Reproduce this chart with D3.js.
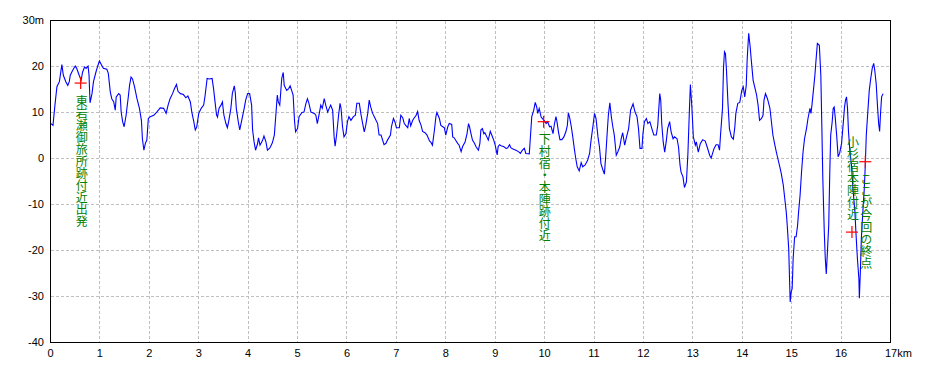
<!DOCTYPE html>
<html><head><meta charset="utf-8">
<script src="https://cdn.jsdelivr.net/npm/d3@7"></script>
<style>
html,body{margin:0;padding:0;background:#fff;}
svg{display:block;}
</style></head>
<body>
<svg id="c" width="930" height="372"></svg>
<script>
// distance (km) along route
const km = [0.01,0.05,0.09,0.13,0.18,0.23,0.26,0.31,0.35,0.38,0.40,0.45,0.50,0.53,0.58,0.62,0.65,0.69,0.72,0.76,0.78,0.80,0.84,0.87,0.92,0.95,0.99,1.03,1.07,1.14,1.17,1.21,1.24,1.28,1.31,1.33,1.38,1.41,1.43,1.46,1.49,1.53,1.57,1.60,1.63,1.66,1.70,1.75,1.80,1.84,1.86,1.89,1.92,1.95,1.98,2.02,2.09,2.15,2.22,2.29,2.34,2.38,2.42,2.47,2.51,2.55,2.58,2.63,2.69,2.74,2.78,2.83,2.86,2.90,2.93,2.96,3.00,3.05,3.10,3.13,3.17,3.21,3.27,3.30,3.33,
3.36,3.38,3.41,3.45,3.48,3.49,3.51,3.55,3.58,3.61,3.65,3.68,3.72,3.74,3.76,3.80,3.83,3.87,3.92,3.95,3.99,4.03,4.07,4.09,4.12,4.15,4.19,4.21,4.24,4.29,4.32,4.36,4.39,4.44,4.49,4.53,4.56,4.59,4.61,4.64,4.66,4.68,4.71,4.73,4.78,4.82,4.85,4.88,4.91,4.94,4.96,5.00,5.03,5.09,5.13,5.17,5.20,5.23,5.27,5.34,5.37,5.40,5.44,5.47,5.50,5.54,5.57,5.61,5.64,5.67,5.71,5.74,5.76,5.79,5.83,5.86,5.88,5.91,5.94,5.98,6.01,6.04,6.08,6.13,6.17,6.20,6.25,6.28,6.31,6.35,6.38,6.42,6.45,6.48,6.52,6.57,6.62,6.65,6.69,
6.75,6.79,6.82,6.88,6.90,6.94,6.97,7.00,7.06,7.09,7.13,7.16,7.19,7.23,7.26,7.29,7.33,7.36,7.40,7.43,7.46,7.50,7.53,7.58,7.62,7.67,7.70,7.73,7.77,7.80,7.82,7.87,7.90,7.94,7.97,8.00,8.04,8.07,8.12,8.14,8.17,8.21,8.24,8.27,8.31,8.34,8.39,8.43,8.46,8.48,8.51,8.54,8.58,8.61,8.66,8.69,8.71,8.74,8.77,8.79,8.83,8.86,8.90,8.93,8.97,9.00,9.04,9.06,9.09,9.13,9.17,9.22,9.25,9.29,9.32,9.37,9.42,9.47,9.51,9.55,9.59,9.62,9.69,9.71,9.74,9.78,9.81,9.84,9.86,9.89,
9.93,9.96,9.99,10.03,10.06,10.10,10.13,10.17,10.20,10.23,10.25,10.28,10.31,10.35,10.39,10.43,10.46,10.48,10.51,10.54,10.57,10.60,10.63,10.66,10.70,10.74,10.77,10.82,10.87,10.91,10.94,10.98,11.01,11.04,11.08,11.11,11.14,11.18,11.21,11.24,11.27,11.29,11.32,11.35,11.38,11.41,11.45,11.48,11.52,11.55,11.58,11.62,11.65,11.70,11.74,11.79,11.83,11.87,11.90,11.93,11.97,11.99,12.02,12.06,12.09,12.13,12.17,12.21,12.26,12.29,12.33,12.35,12.37,12.40,12.43,12.46,12.49,12.53,12.56,12.60,12.63,12.68,12.71,12.74,12.76,12.80,12.83,12.87,12.90,12.93,12.95,12.98,13.01,13.05,13.07,13.11,13.15,13.20,13.25,13.29,13.34,13.37,
13.43,13.47,13.51,13.54,13.56,13.60,13.62,13.64,13.66,13.68,13.71,13.74,13.78,13.82,13.85,13.87,13.91,13.95,13.99,14.02,14.05,14.08,14.10,14.13,14.16,14.18,14.22,14.25,14.29,14.32,14.35,14.39,14.42,14.44,14.47,14.51,14.56,14.59,14.62,14.66,14.69,14.72,14.76,14.79,14.83,14.86,14.89,14.91,14.94,14.96,14.97,14.99,15.01,15.03,15.06,15.09,15.12,15.14,15.17,15.20,15.23,15.26,15.30,15.33,15.37,15.39,15.41,15.44,15.47,15.49,15.52,15.56,15.59,15.61,15.63,15.66,15.68,15.70,15.72,15.75,15.77,15.79,15.82,15.84,15.86,15.88,15.91,15.94,15.97,16.01,16.04,16.07,16.09,16.11,16.13,16.15,16.18,16.21,16.24,16.28,16.30,16.33,16.36,16.37,16.39,16.41,16.44,16.47,16.49,16.51,16.55,16.57,16.60,16.63,16.66,16.68,16.71,16.74,16.76,16.78,16.80,16.82,16.85];
// elevation (m)
const elev = [7.6,7.2,11.6,15.6,16.7,20.4,18.1,16.7,15.9,16.7,18.1,19.2,20.1,19.6,18.1,17.0,18.8,19.9,19.6,20.1,18.1,12.1,14.1,16.7,18.8,19.9,21.2,20.4,19.6,19.4,18.5,14.5,13.0,12.3,10.5,13.4,14.1,13.8,10.1,8.0,6.9,9.4,13.0,15.9,17.7,17.3,15.6,13.0,10.9,8.3,4.3,1.8,3.3,4.0,8.7,9.1,9.4,10.1,11.0,10.9,9.8,11.6,13.0,14.1,15.2,16.1,14.6,14.1,13.9,13.2,13.6,12.3,10.1,8.0,6.2,6.9,9.8,10.9,11.6,13.8,17.4,17.3,17.4,15.2,12.3,
9.5,9.0,10.9,11.6,12.3,11.2,9.4,7.6,6.7,8.3,10.9,14.1,15.8,14.3,10.9,8.0,6.2,8.3,10.9,12.7,14.1,14.1,11.6,6.2,3.6,1.8,3.2,4.5,2.9,3.9,4.9,3.6,1.8,2.3,3.4,5.1,9.4,13.8,12.3,11.6,14.5,17.4,18.7,15.9,14.8,15.2,15.8,14.8,13.8,8.0,5.8,6.5,9.1,10.0,10.1,12.0,13.0,12.0,10.1,9.8,9.4,7.6,9.8,11.6,10.9,13.0,11.6,10.1,10.9,11.6,10.5,4.7,2.7,5.1,9.4,12.0,10.9,6.9,4.7,5.4,8.0,9.1,8.3,9.1,9.4,12.0,12.0,9.8,8.0,5.8,7.2,9.8,12.7,11.2,9.8,8.7,7.6,5.1,5.1,
3.0,3.3,4.0,5.1,6.9,8.7,8.0,6.7,6.7,9.4,8.8,7.6,7.2,6.7,8.7,7.1,8.3,8.8,9.4,10.2,8.3,7.2,5.9,5.6,5.1,3.8,3.5,2.9,6.2,9.1,10.0,8.7,7.2,6.9,6.7,5.1,6.9,7.6,7.4,4.7,4.5,3.8,3.3,2.9,1.5,2.6,3.6,5.4,7.6,6.9,5.4,4.0,3.3,2.6,1.8,3.3,6.2,6.5,5.4,5.6,4.7,4.0,5.9,5.1,4.0,2.9,0.8,2.6,3.0,2.7,2.6,2.2,2.3,3.0,2.3,2.0,1.8,1.5,1.1,1.8,2.2,1.1,1.0,4.3,9.1,10.5,12.2,11.2,9.8,10.9,
9.0,8.6,8.3,7.6,8.0,6.9,7.0,5.4,7.6,9.1,8.0,5.8,4.1,4.1,4.7,5.8,7.2,9.9,8.7,6.9,4.7,2.2,0.0,-1.8,-2.7,-0.9,-1.8,-1.4,-0.4,1.1,4.0,7.2,9.8,8.7,4.7,2.5,-1.1,-2.5,-3.4,1.1,6.2,9.4,12.1,9.1,6.9,5.1,0.7,1.4,2.5,4.3,5.6,2.9,4.3,6.5,10.5,11.9,10.1,9.1,6.5,2.2,2.2,5.4,8.0,8.7,7.6,8.0,6.5,5.1,5.1,7.2,14.1,12.7,7.6,3.6,1.4,3.6,6.5,8.0,5.8,4.3,4.7,4.3,2.5,-1.4,-2.9,-4.0,-6.3,-5.1,1.1,10.5,16.1,11.2,4.7,2.9,3.6,1.4,3.2,4.1,3.8,2.5,0.7,0.1,
2.2,3.0,3.0,1.8,5.1,10.9,19.6,23.2,22.8,19.3,12.2,6.5,4.7,4.2,6.9,9.8,12.0,12.2,14.8,15.6,13.4,15.8,21.7,27.2,24.3,21.7,17.0,15.6,13.8,11.6,8.3,8.7,9.4,12.7,14.1,13.0,10.9,8.0,5.1,2.9,1.4,0.0,-1.8,-3.3,-5.8,-8.7,-11.6,-14.5,-19.6,-27.5,-31.2,-29.0,-28.3,-21.7,-17.0,-17.0,-14.5,-11.6,-8.0,-2.9,1.4,4.3,6.5,8.7,10.9,9.8,11.6,14.8,18.1,21.0,25.0,24.6,18.1,7.2,-4.3,-16.0,-21.7,-25.1,-21.0,-14.5,-3.6,5.1,8.0,10.9,11.2,9.1,5.1,0.4,1.1,3.3,7.2,11.2,12.7,13.4,10.9,5.8,1.4,-1.4,-6.5,-11.6,-16.0,-21.7,-26.1,-30.4,-24.6,-17.4,-11.6,-6.5,-1.4,5.1,11.6,14.8,17.4,19.6,20.7,19.3,16.3,10.9,7.6,5.9,10.1,13.4,14.1];

const xTicks = [0,1,2,3,4,5,6,7,8,9,10,11,12,13,14,15,16,17];
const xTickLabels = ["0","1","2","3","4","5","6","7","8","9","10","11","12","13","14","15","16","17km"];
const yTicks = [30,20,10,0,-10,-20,-30,-40];
const yTickLabels = ["30m","20","10","0","-10","-20","-30","-40"];

// annotations: position on route, label, whether label sits above the marker
const noteKm = [0.61, 9.98, 16.22, 16.49];
const noteElev = [16.4, 8.0, -16.0, -0.7];
const noteText = ["東岩瀬御旅所跡付近出発", "下村宿・本陣跡付近", "小杉宿本陣付近", "ここが今回の終点"];
const noteAbove = [false, false, true, false];

const svg = d3.select("#c");
const x = d3.scaleLinear().domain([0,17]).range([50.5, 890.5]);
const y = d3.scaleLinear().domain([-40,30]).range([342.5, 20.5]);

// grid
const g = svg.append("g");
g.selectAll("line.vx").data(xTicks.slice(1,-1)).join("line")
  .attr("x1", d=>Math.round(x(d)-0.5)+0.5).attr("x2", d=>Math.round(x(d)-0.5)+0.5)
  .attr("y1", y(30)).attr("y2", y(-40))
  .attr("stroke", "#c0c0c0").attr("stroke-dasharray", "3,2").attr("shape-rendering","crispEdges");
g.selectAll("line.hy").data(yTicks.slice(1,-1)).join("line")
  .attr("y1", d=>Math.round(y(d)-0.5)+0.5).attr("y2", d=>Math.round(y(d)-0.5)+0.5)
  .attr("x1", x(0)).attr("x2", x(17))
  .attr("stroke", "#c0c0c0").attr("stroke-dasharray", "3,2").attr("shape-rendering","crispEdges");

// profile line
const pts = km.map((k,i)=>[k, elev[i]]);
svg.append("path").datum(pts)
  .attr("d", d3.line().x(d=>x(d[0])).y(d=>y(d[1])))
  .attr("fill","none").attr("stroke","#0000ff").attr("stroke-width",1.1);

// frame
svg.append("rect").attr("x", x(0)).attr("y", y(30))
  .attr("width", x(17)-x(0)).attr("height", y(-40)-y(30))
  .attr("fill","none").attr("stroke","#000").attr("stroke-width",1).attr("shape-rendering","crispEdges");

// axis labels
const font = "'Liberation Sans', Arial, sans-serif";
svg.selectAll("text.yl").data(yTicks).join("text")
  .attr("x", 44).attr("y", d=>y(d)).attr("dy","0.36em")
  .attr("text-anchor","end").attr("font-family",font).attr("font-size",11).attr("fill","#000")
  .text((d,i)=>yTickLabels[i]);
svg.selectAll("text.xl").data(xTicks).join("text")
  .attr("x", (d,i)=> i===xTicks.length-1 ? x(d)-5.5 : x(d))
  .attr("y", 357)
  .attr("text-anchor",(d,i)=> i===xTicks.length-1 ? "start" : "middle")
  .attr("font-family",font).attr("font-size",11).attr("fill","#000")
  .text((d,i)=>xTickLabels[i]);

// annotations
const charH = 12;
noteKm.forEach((k,i)=>{
  const cx = x(k), cy = y(noteElev[i]);
  const m = svg.append("g").attr("stroke","#ff0000").attr("stroke-width",1.2);
  m.append("line").attr("x1",cx-6).attr("x2",cx+6).attr("y1",cy).attr("y2",cy);
  m.append("line").attr("x1",cx).attr("x2",cx).attr("y1",cy-6).attr("y2",cy+6);
  const n = Array.from(noteText[i]).length;
  const top = noteAbove[i] ? cy - 12 - n*charH : cy + 12;
  svg.append("text")
    .attr("x", cx+1).attr("y", top)
    .style("writing-mode","vertical-rl")
    .attr("font-family","'Noto Sans CJK JP', sans-serif")
    .attr("font-size",12).attr("fill","#008000")
    .text(noteText[i]);
});
</script>
</body></html>
